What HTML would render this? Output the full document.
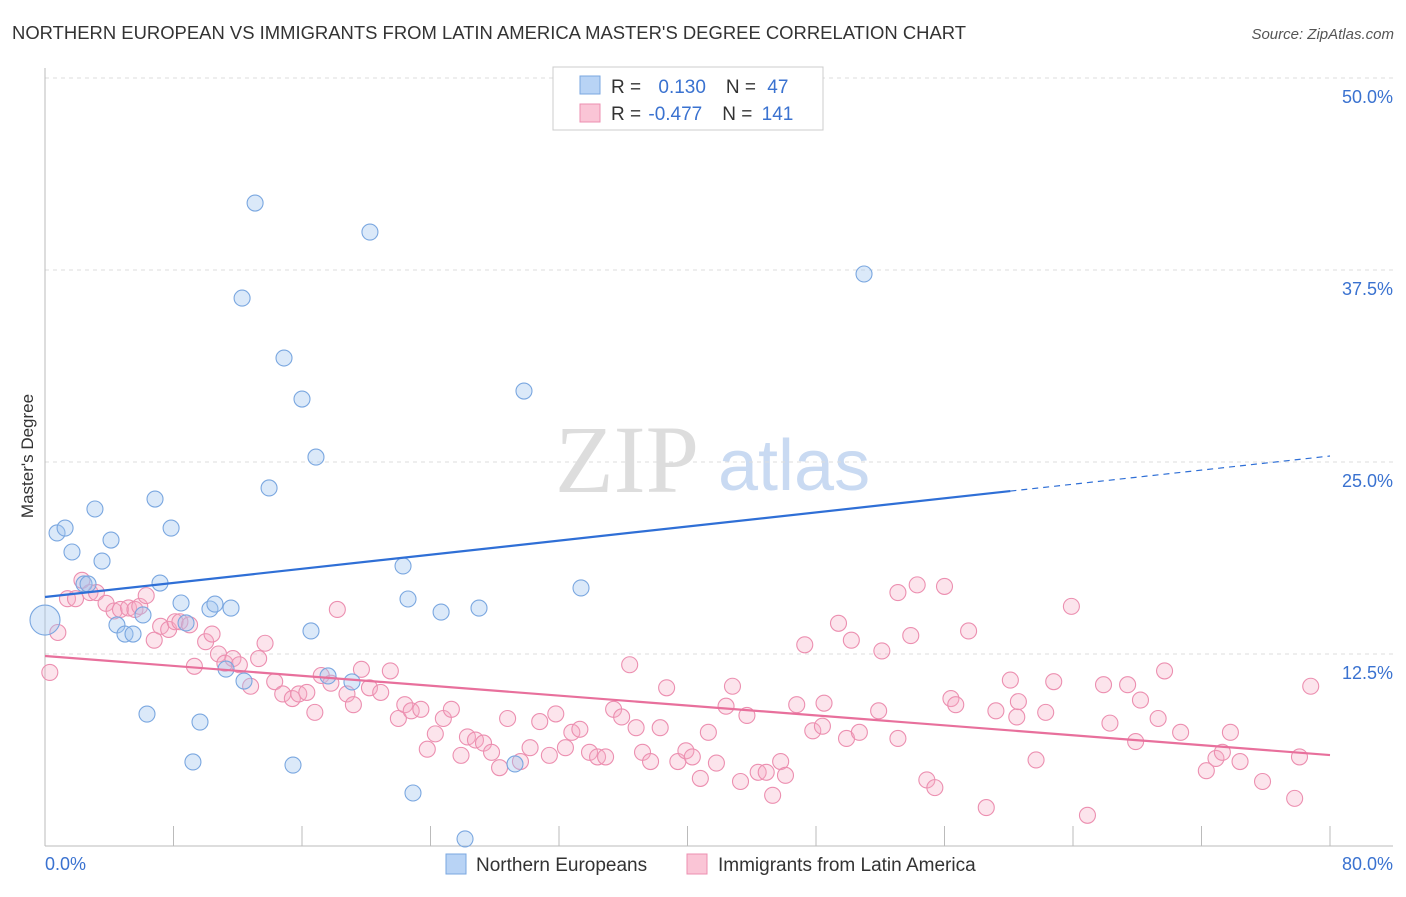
<!DOCTYPE html>
<html><head><meta charset="utf-8"><style>
body{margin:0;background:#fff;font-family:"Liberation Sans",sans-serif}
svg text{font-family:"Liberation Sans",sans-serif}
</style></head><body>
<svg id="c" width="1406" height="892" xmlns="http://www.w3.org/2000/svg">
<text x="12" y="39" font-size="18" fill="#333" textLength="954" lengthAdjust="spacingAndGlyphs">NORTHERN EUROPEAN VS IMMIGRANTS FROM LATIN AMERICA MASTER'S DEGREE CORRELATION CHART</text>
<text x="1394" y="39" font-size="15" fill="#555" font-style="italic" text-anchor="end">Source: ZipAtlas.com</text>
<g>
<text x="555" y="492" font-size="96" fill="#ddd" font-family="Liberation Serif, serif" style="font-family:'Liberation Serif',serif">ZIP</text>
<text x="718" y="490" font-size="72" fill="#c9daf2">atlas</text>
</g>
<g id="grid"></g>
<g id="axes"></g>
<g id="pts"></g>
<g id="trend"></g>
<text transform="translate(33,456) rotate(-90)" font-size="17" fill="#333" text-anchor="middle">Master's Degree</text>
<g>
<rect x="553" y="67" width="270" height="63" fill="#fff" stroke="#ccc"/>
<rect x="580" y="76" width="20" height="18" fill="#b8d3f5" stroke="#7aa7e0"/>
<rect x="580" y="104" width="20" height="18" fill="#fac5d6" stroke="#ec8fb0"/>
<text x="611" y="93" font-size="19" fill="#333">R = <tspan fill="#3a72d0" dx="12">0.130</tspan><tspan dx="20" fill="#333">N = </tspan><tspan fill="#3a72d0" dx="6">47</tspan></text>
<text x="611" y="120" font-size="19" fill="#333">R = <tspan fill="#3a72d0" dx="2">-0.477</tspan><tspan dx="20" fill="#333">N = </tspan><tspan fill="#3a72d0" dx="4">141</tspan></text>
</g>
<g>
<rect x="446" y="854" width="20" height="20" fill="#b8d3f5" stroke="#7aa7e0"/>
<text x="476" y="871" font-size="19" fill="#333">Northern Europeans</text>
<rect x="687" y="854" width="20" height="20" fill="#fac5d6" stroke="#ec8fb0"/>
<text x="718" y="871" font-size="19" fill="#333">Immigrants from Latin America</text>
</g>
</svg>
<script>
const yTicks=[12.5,25,37.5,50];
const yTickLabels=["12.5%","25.0%","37.5%","50.0%"];
const xTickCount=10;
const blueX=[0,0.75,1.25,1.68,3.11,3.55,4.11,2.43,2.68,4.48,4.98,5.48,6.10,6.35,6.85,7.16,7.85,8.47,8.78,9.65,9.21,10.27,10.58,11.27,11.58,12.39,12.27,13.08,13.95,14.88,15.44,16.00,16.56,16.87,17.62,19.11,20.23,22.29,22.60,22.91,24.66,26.15,27.02,29.26,29.82,33.37,50.99];
const blueY=[14.71,20.38,20.70,19.14,21.94,18.55,19.92,17.06,17.06,14.39,13.80,13.80,15.04,8.59,22.59,17.12,20.70,15.82,14.52,8.07,5.47,15.43,15.75,11.52,15.49,10.74,35.67,41.86,23.31,31.77,5.27,29.10,14.00,25.32,11.07,10.68,39.97,18.23,16.08,3.45,15.23,0.46,15.49,5.34,29.62,16.80,37.24];
const pinkX=[0.3,0.8,1.4,1.9,2.3,2.8,3.2,3.8,4.3,4.7,5.2,5.6,5.9,6.3,6.8,7.2,7.7,8.1,8.4,9.0,9.3,10.0,10.4,10.8,11.2,11.7,12.1,12.8,13.3,13.7,14.3,14.8,15.4,15.8,16.3,16.8,17.2,17.8,18.2,18.8,19.2,19.7,20.2,20.9,21.5,22.0,22.4,22.8,23.4,23.8,24.3,24.8,25.3,25.9,26.3,26.8,27.3,27.8,28.3,28.8,29.6,30.2,30.8,31.4,31.8,32.4,32.8,33.3,33.9,34.4,34.9,35.4,35.9,36.4,36.8,37.2,37.7,38.3,38.7,39.4,39.9,40.3,40.8,41.3,41.8,42.4,42.8,43.3,43.7,44.4,44.9,45.3,45.8,46.1,46.8,47.3,47.8,48.4,48.5,49.4,49.9,50.2,50.7,51.9,52.1,53.1,53.9,53.1,54.3,54.9,55.4,56.0,56.4,56.7,57.5,58.6,59.2,60.1,60.5,60.6,61.7,62.3,62.8,63.9,64.9,65.9,66.3,67.4,67.9,68.2,69.3,69.7,70.7,72.3,72.9,73.3,73.8,74.4,75.8,77.8,78.1,78.8];
const pinkY=[11.3,13.9,16.1,16.1,17.3,16.5,16.5,15.8,15.3,15.4,15.5,15.4,15.6,16.3,13.4,14.3,14.1,14.6,14.6,14.4,11.7,13.3,13.8,12.5,11.9,12.2,11.8,10.4,12.2,13.2,10.7,9.9,9.6,9.9,10.0,8.7,11.1,10.6,15.4,9.9,9.2,11.5,10.3,10.0,11.4,8.3,9.2,8.8,8.9,6.3,7.3,8.3,8.9,5.9,7.1,6.9,6.7,6.1,5.1,8.3,5.5,6.4,8.1,5.9,8.6,6.4,7.4,7.6,6.1,5.8,5.8,8.9,8.4,11.8,7.7,6.1,5.5,7.7,10.3,5.5,6.2,5.8,4.4,7.4,5.4,9.1,10.4,4.2,8.5,4.8,4.8,3.3,5.5,4.6,9.2,13.1,7.5,7.8,9.3,14.5,7.0,13.4,7.4,8.8,12.7,7.0,13.7,16.5,17.0,4.3,3.8,16.9,9.6,9.2,14.0,2.5,8.8,10.8,8.4,9.4,5.6,8.7,10.7,15.6,2.0,10.5,8.0,10.5,6.8,9.5,8.3,11.4,7.4,4.9,5.7,6.1,7.4,5.5,4.2,3.1,5.8,10.4];
const blueTrend=[16.21,25.39], blueSolidEnd=60.1;
const pinkTrend=[12.37,5.92];
const NS="http://www.w3.org/2000/svg";
const X=v=>45+v/80*1285, Y=v=>846-v/50*768;
function mk(t,a,p){const e=document.createElementNS(NS,t);for(const k in a)e.setAttribute(k,a[k]);p.appendChild(e);return e;}
const g=document.getElementById('grid'),ax=document.getElementById('axes'),pts=document.getElementById('pts'),tr=document.getElementById('trend');
yTicks.forEach((t,i)=>{
 const l=mk('line',{x1:45,x2:1393,y1:Y(t),y2:Y(t),stroke:'#ddd','stroke-dasharray':'4,4'},g);
 
 
 const tx=mk('text',{x:1393,y:Y(t)+25,'font-size':18,fill:'#3a72d0','text-anchor':'end'},ax);
 tx.textContent=yTickLabels[i];
 
 
});
const xa=mk('line',{x1:45,x2:1393,y1:846,y2:846,stroke:'#bbb'},ax);


const ya=mk('line',{x1:45,x2:45,y1:68,y2:846,stroke:'#bbb'},ax);


for(let i=0;i<=xTickCount;i++){const v=80*i/xTickCount;
 const t=mk('line',{x1:X(v),x2:X(v),y1:826,y2:846,stroke:'#bbb'},ax);
 
 }
const x0=mk('text',{x:45,y:870,'font-size':18,fill:'#3a72d0'},ax);x0.textContent='0.0%';


const x1=mk('text',{x:1393,y:870,'font-size':18,fill:'#3a72d0','text-anchor':'end'},ax);x1.textContent='80.0%';


pinkX.forEach((v,i)=>{const c=mk('circle',{cx:X(v),cy:Y(pinkY[i]),r:8,fill:'rgba(246,170,196,0.32)',stroke:'#ec8fb0','stroke-width':1.1},pts);
 
 });
blueX.forEach((v,i)=>{const c=mk('circle',{cx:X(v),cy:Y(blueY[i]),r:i===0?15:8,fill:'rgba(160,196,240,0.38)',stroke:'#7aa7e0','stroke-width':1.1},pts);
 
 });
const by=v=>blueTrend[0]+(blueTrend[1]-blueTrend[0])*v/80;
const b1=mk('line',{x1:X(0),y1:Y(by(0)),x2:X(blueSolidEnd),y2:Y(by(blueSolidEnd)),stroke:'#2f6fd6','stroke-width':2.2},tr);


const b2=mk('line',{x1:X(blueSolidEnd),y1:Y(by(blueSolidEnd)),x2:X(80),y2:Y(by(80)),stroke:'#2f6fd6','stroke-width':1.2,'stroke-dasharray':'6,5'},tr);


const p1=mk('line',{x1:X(0),y1:Y(pinkTrend[0]),x2:X(80),y2:Y(pinkTrend[1]),stroke:'#e8709c','stroke-width':2.2},tr);


</script>
</body></html>
